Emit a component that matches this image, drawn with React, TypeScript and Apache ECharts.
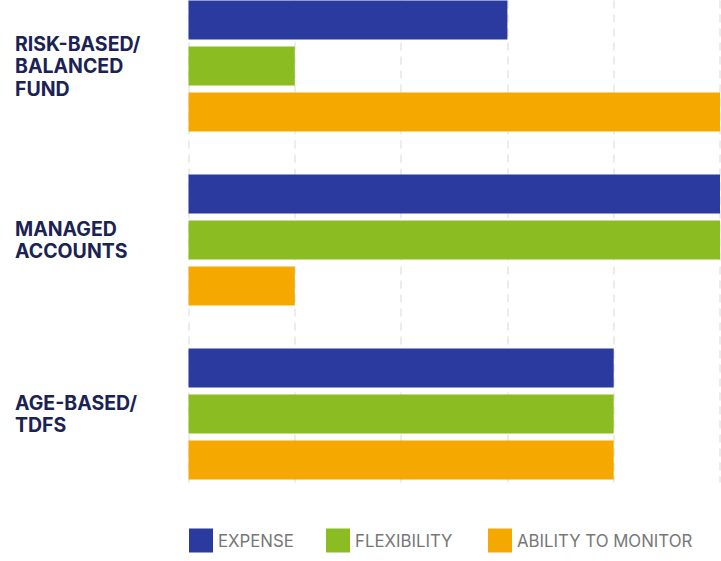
import React, { useEffect, useRef } from "react";
import * as echarts from "echarts";

const categories = ["RISK-BASED/\nBALANCED\nFUND", "MANAGED\nACCOUNTS", "AGE-BASED/\nTDFS"];
const seriesNames = ["EXPENSE", "FLEXIBILITY", "ABILITY TO MONITOR"];
const expense = [3, 5, 4];
const flexibility = [1, 5, 4];
const abilityToMonitor = [5, 1, 4];
const axisMin = 0;
const axisMax = 5;
const axisInterval = 1;

const colors = ["#2B3A9E", "#8BBC21", "#F5A800"];
const seriesData = [expense, flexibility, abilityToMonitor];
const legendLefts = [189, 326, 488];

const SHIFT = 21.5;

export default function App() {
  const ref = useRef<HTMLDivElement>(null);
  useEffect(() => {
    if (!ref.current) return;
    const chart = echarts.init(ref.current, undefined, { renderer: "svg" });
    const gridLeft = 188.5;
    const gridRight = 1;
    chart.setOption({
      animation: false,
      backgroundColor: "#ffffff",
      grid: [
        { left: gridLeft, right: gridRight, top: 0, height: 522, containLabel: false },
        { left: gridLeft, right: gridRight, top: SHIFT, height: 482, containLabel: false },
      ],
      xAxis: [
        {
          gridIndex: 0,
          type: "value",
          min: axisMin,
          max: axisMax,
          interval: axisInterval,
          axisLine: { show: false },
          axisTick: { show: false },
          axisLabel: { show: false },
          splitLine: { show: false },
        },
        {
          gridIndex: 1,
          type: "value",
          min: axisMin,
          max: axisMax,
          interval: axisInterval,
          axisLine: { show: false },
          axisTick: { show: false },
          axisLabel: { show: false },
          splitLine: {
            show: true,
            lineStyle: { color: "#ECECEC", width: 2, type: [8, 6] },
          },
        },
      ],
      yAxis: [
        {
          gridIndex: 0,
          type: "category",
          inverse: true,
          data: categories,
          axisLine: { show: false },
          axisTick: { show: false },
          splitLine: { show: false },
          axisLabel: {
            align: "left",
            margin: gridLeft - 15,
            color: "#1B2254",
            fontFamily: "Inter",
            fontWeight: "bold",
            fontSize: 19.5,
            lineHeight: 22.5,
            padding: [2, 0, 0, 0],
          },
        },
        {
          gridIndex: 1,
          type: "value",
          min: 0,
          max: 1,
          show: false,
        },
      ],
      legend: seriesNames.map((name, i) => ({
        data: [name],
        left: legendLefts[i],
        top: 528 + SHIFT,
        padding: 0,
        itemWidth: 24,
        itemHeight: 24,
        icon: "rect",
        selectedMode: false,
        textStyle: {
          color: "#777777",
          fontFamily: "Inter",
          fontSize: 16.8,
        },
      })),
      series: seriesNames.map((name, i) => ({
        name,
        type: "bar",
        xAxisIndex: 0,
        yAxisIndex: 0,
        data: seriesData[i],
        barWidth: 39,
        barGap: "18%",
        itemStyle: { color: colors[i] },
      })),
    });
    return () => chart.dispose();
  }, []);
  return (
    <div
      ref={ref}
      style={{ position: "fixed", left: 0, top: -SHIFT, width: 721, height: 561 + SHIFT }}
    />
  );
}
